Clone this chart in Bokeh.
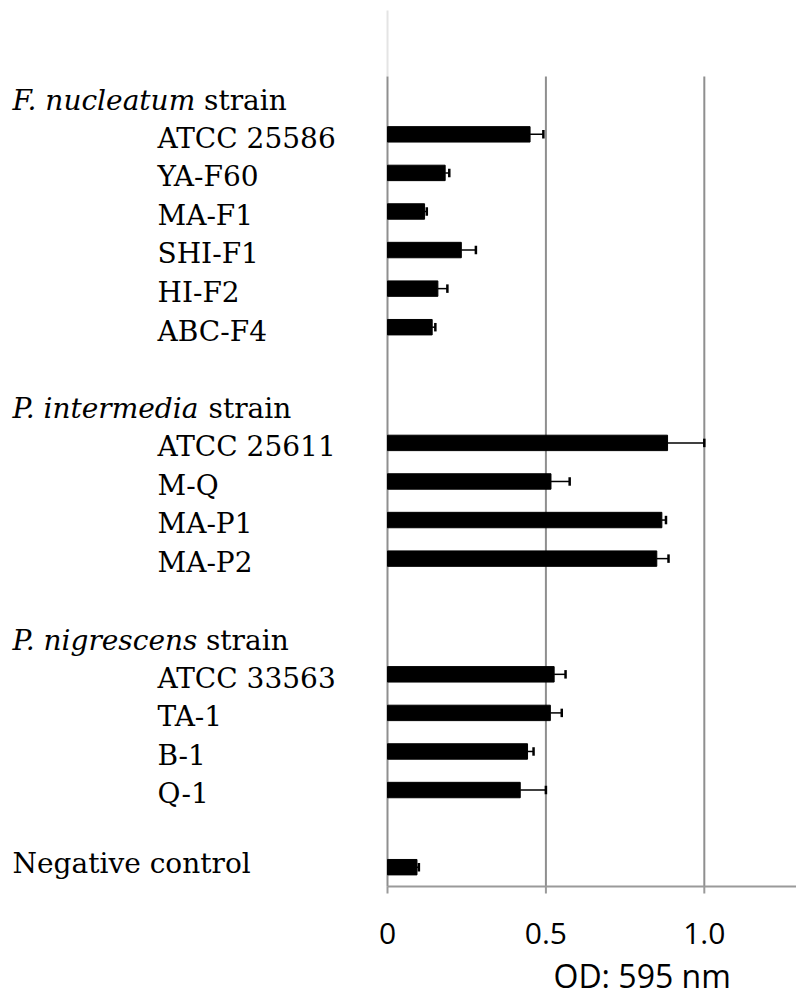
from bokeh.plotting import figure
from bokeh.models import Range1d, FixedTicker, ColumnDataSource, Title
from bokeh.core.properties import value
from bokeh.embed import file_html
from bokeh.resources import INLINE

# ---------------- data ----------------
group_names = ["F. nucleatum", "P. intermedia", "P. nigrescens"]
group_suffix = "strain"

fn_strains = ["ATCC 25586", "YA-F60", "MA-F1", "SHI-F1", "HI-F2", "ABC-F4"]
fn_od = [0.450, 0.182, 0.117, 0.233, 0.159, 0.141]
fn_err = [0.042, 0.013, 0.007, 0.046, 0.030, 0.010]

pi_strains = ["ATCC 25611", "M-Q", "MA-P1", "MA-P2"]
pi_od = [0.884, 0.516, 0.866, 0.850]
pi_err = [0.116, 0.059, 0.013, 0.037]

pn_strains = ["ATCC 33563", "TA-1", "B-1", "Q-1"]
pn_od = [0.526, 0.514, 0.442, 0.419]
pn_err = [0.036, 0.036, 0.019, 0.081]

control_name = "Negative control"
control_od = [0.093]
control_err = [0.006]

x_ticks = [0, 0.5, 1.0]
x_tick_labels = ["0", "0.5", "1.0"]
x_title = "OD: 595 nm"

# ---------------- row layout (one slot per row) ----------------
groups = [(fn_strains, fn_od, fn_err), (pi_strains, pi_od, pi_err), (pn_strains, pn_od, pn_err)]
names, ods, errs, ys, header_y = [], [], [], [], []
slot = 0
for strains, od, err in groups:
    header_y.append(slot)
    slot += 1
    for s, o, e in zip(strains, od, err):
        names.append(s); ods.append(o); errs.append(e); ys.append(slot)
        slot += 1
    slot += 1
control_y = slot
last = slot + 0.5          # bottom edge of the last slot

bar_y = ys + [control_y]
bar_v = ods + control_od
bar_e = errs + control_err
upper = [v + e for v, e in zip(bar_v, bar_e)]

SERIF = "DejaVu Serif"
SANS = "Open Sans"
FS = "28px"
GRID = "#8f8f8f"

p = figure(width=796, height=1003,
           x_range=Range1d(-1.2216, 1.291),
           y_range=Range1d(last + 0.234, -2.470),
           min_border_left=0, min_border_right=0,
           min_border_top=0, min_border_bottom=108,
           y_axis_location=None, toolbar_location=None,
           output_backend="svg")
p.outline_line_color = None
p.xgrid.visible = False
p.ygrid.visible = False
p.background_fill_color = "white"
p.border_fill_color = "white"

# faint top extension of the value-axis line, grid lines, bottom axis line and ticks
p.segment(x0=[0], x1=[0], y0=[-2.211], y1=[-0.5], line_color="#e4e4e4", line_width=2)
p.segment(x0=x_ticks, x1=x_ticks, y0=[-0.5] * len(x_ticks), y1=[last] * len(x_ticks),
          line_color=GRID, line_width=2)
p.segment(x0=[0], x1=[1.291], y0=[last], y1=[last], line_color="#9a9a9a", line_width=2)
p.segment(x0=x_ticks, x1=x_ticks, y0=[last] * len(x_ticks), y1=[last + 0.18] * len(x_ticks),
          line_color="#9a9a9a", line_width=2)

# bars
src = ColumnDataSource(dict(y=bar_y, v=bar_v, up=upper,
                            c0=[y - 0.11 for y in bar_y], c1=[y + 0.11 for y in bar_y]))
p.hbar(y="y", left=0, right="v", height=0.4, source=src, fill_color="black", line_color="black")
# one-sided error bars
p.segment(x0="v", x1="up", y0="y", y1="y", source=src, line_color="black", line_width=1.5)
p.segment(x0="up", x1="up", y0="c0", y1="c1", source=src, line_color="black", line_width=2.5)

# x axis (labels only; line and ticks drawn above)
ax = p.xaxis[0]
ax.ticker = FixedTicker(ticks=x_ticks)
ax.major_label_overrides = {t: l for t, l in zip(x_ticks, x_tick_labels)}
ax.axis_line_color = None
ax.major_tick_line_color = None
ax.minor_tick_line_color = None
ax.major_tick_out = 0
ax.major_tick_in = 0
ax.major_label_text_font = SANS
ax.major_label_text_font_size = "30px"
ax.major_label_text_color = "black"
ax.major_label_standoff = 27

p.add_layout(Title(text=x_title, align="left", offset=553, text_font=SANS, text_font_size="32px",
                   text_font_style="normal", text_color="black", standoff=11), "below")

# group headers
suffix_x = [-0.579, -0.565, -0.573]
p.text(x=[-1.1837] * len(group_names), y=[h + 0.12 for h in header_y], text=group_names,
       text_font=value(SERIF), text_font_size=FS, text_font_style="italic",
       text_baseline="middle", text_color="black")
p.text(x=suffix_x, y=[h + 0.12 for h in header_y], text=[group_suffix] * len(group_names),
       text_font=value(SERIF), text_font_size=FS, text_baseline="middle", text_color="black")

# strain labels
p.text(x=[-0.726] * len(names), y=[y + 0.1 for y in ys], text=names,
       text_font=value(SERIF), text_font_size=FS, text_baseline="middle", text_color="black")
p.text(x=[-1.1837], y=[control_y - 0.1], text=[control_name],
       text_font=value(SERIF), text_font_size=FS, text_baseline="middle", text_color="black")

open("out.html", "w").write(file_html(p, INLINE))
